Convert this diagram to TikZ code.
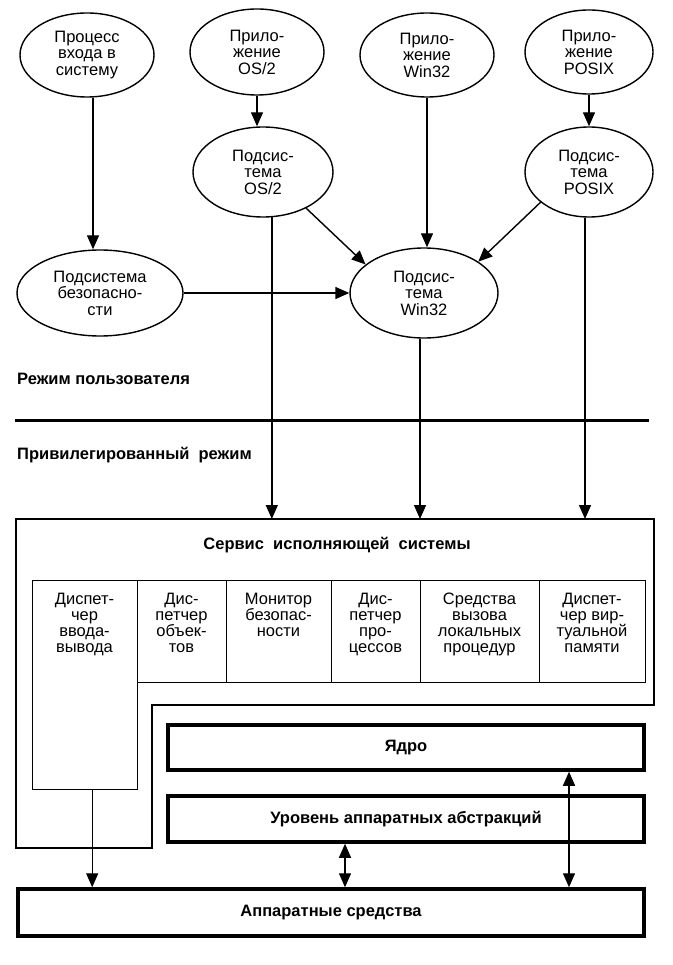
\documentclass[tikz,border=0pt]{standalone}
\usepackage{fontspec}
\setmainfont{Liberation Sans}
\usetikzlibrary{arrows.meta,shapes.geometric,calc}
\begin{document}
\begin{tikzpicture}[x=1pt,y=-1pt,
  ell/.style={draw,ellipse,line width=1.4pt,fill=white,inner sep=0pt,align=center,
    font=\fontsize{16.5}{16.5}\selectfont},
  arr/.style={line width=1.4pt,-{Triangle[length=14pt,width=12pt]}},
  dbl/.style={line width=1.4pt,{Triangle[length=14pt,width=12pt]}-{Triangle[length=14pt,width=12pt]}},
  cell/.style={draw,line width=1.4pt,inner sep=0pt,anchor=north west},
  celltext/.style={align=center,anchor=north,inner sep=0pt,font=\fontsize{16.5}{16}\selectfont},
  heavybox/.style={draw,line width=3.5pt,inner sep=0pt,font=\fontsize{16.5}{18}\selectfont\bfseries},
  lbl/.style={inner sep=0pt,font=\fontsize{16.5}{18}\selectfont\bfseries}
]
\useasboundingbox (0,0) rectangle (672,965);

% user-mode ellipses
\node[ell,minimum width=134pt,minimum height=84pt] (login) at (87,55) {Процесс\\входа в\\систему};
\node[ell,minimum width=134pt,minimum height=86pt] (os2app) at (257,52) {Прило-\\жение\\OS/2};
\node[ell,minimum width=134pt,minimum height=84pt] (w32app) at (427,55) {Прило-\\жение\\Win32};
\node[ell,minimum width=128pt,minimum height=84pt] (pxapp) at (589,52) {Прило-\\жение\\POSIX};
\node[ell,minimum width=140pt,minimum height=90pt] (os2sub) at (263,172) {Подсис-\\тема\\OS/2};
\node[ell,minimum width=128pt,minimum height=90pt] (pxsub) at (589,172) {Подсис-\\тема\\POSIX};
\node[ell,minimum width=166pt,minimum height=86pt] (sec) at (100,293) {Подсистема\\безопасно-\\сти};
\node[ell,minimum width=148pt,minimum height=90pt] (w32sub) at (424,293) {Подсис-\\тема\\Win32};

% executive outline
\coordinate (execT) at (0,519);
\draw[line width=1.4pt] (16,519) -- (654,519) -- (654,705) -- (152,705) -- (152,848) -- (16,848) -- cycle;
\node[lbl] (exect) at (337,545) {Сервис\ \ исполняющей\ \ системы};

% connectors in user mode
\coordinate (la) at ($(login.south)+(6,0)$);
\draw[arr] (la) -- (la |- sec.north);
\draw[arr] (os2app.south) -- (os2app.south |- os2sub.north);
\draw[arr] (w32app.south) -- (w32app.south |- w32sub.north);
\draw[arr] (pxapp.south) -- (pxapp.south |- pxsub.north);
\draw[arr] (sec.east) -- (w32sub.west);
\draw[arr] (os2sub.-40) -- (w32sub.154);
\draw[arr] (pxsub.-148) -- (w32sub.30);
\draw[arr] (os2sub.-79) -- (os2sub.-79 |- execT);
\draw[arr] (w32sub.-95) -- (w32sub.-95 |- execT);
\draw[arr] (pxsub.-95) -- (pxsub.-95 |- execT);

% mode labels and separator
\node[lbl,anchor=west] (umode) at (17,379) {Режим пользователя};
\draw[line width=3pt] (15,420) -- (649,420);
\node[lbl,anchor=west] (pmode) at (17,455) {Привилегированный\ \ режим};

% executive cells
\node[cell,minimum width=105pt,minimum height=209pt] (io) at (32,580) {};
\node[cell,minimum width=89pt,minimum height=102pt] (om) at (137,580) {};
\node[cell,minimum width=105pt,minimum height=102pt] (sm) at (226,580) {};
\node[cell,minimum width=89pt,minimum height=102pt] (pm) at (331,580) {};
\node[cell,minimum width=119pt,minimum height=102pt] (lpc) at (420,580) {};
\node[cell,minimum width=106pt,minimum height=102pt] (vm) at (539,580) {};
\node[celltext] (iot) at (84.5,593) {Диспет-\\чер\\ввода-\\вывода};
\node[celltext] (omt) at (181.5,593) {Дис-\\петчер\\объек-\\тов};
\node[celltext] (smt) at (278.5,593) {Монитор\\безопас-\\ности};
\node[celltext] (pmt) at (375.5,593) {Дис-\\петчер\\про-\\цессов};
\node[celltext] (lpct) at (479.5,593) {Средства\\вызова\\локальных\\процедур};
\node[celltext] (vmt) at (592,593) {Диспет-\\чер вир-\\туальной\\памяти};

% kernel, HAL, hardware
\node[heavybox,minimum width=476pt,minimum height=45pt] (kern) at (406,747.5) {Ядро};
\node[heavybox,minimum width=476pt,minimum height=46pt] (hal) at (406,819) {Уровень аппаратных абстракций};
\node[heavybox,minimum width=626pt,minimum height=47pt] (hw) at (331,912.5) {Аппаратные средства};

\coordinate (ioa) at ($(io.south)+(7,0)$);
\draw[arr] (ioa) -- (ioa |- hw.north);
\coordinate (ha) at ($(hal.south)+(-61,0)$);
\draw[dbl] (ha) -- (ha |- hw.north);
\coordinate (ka) at ($(kern.south)+(163,0)$);
\draw[dbl] (ka) -- (ka |- hw.north);
\end{tikzpicture}
\end{document}
